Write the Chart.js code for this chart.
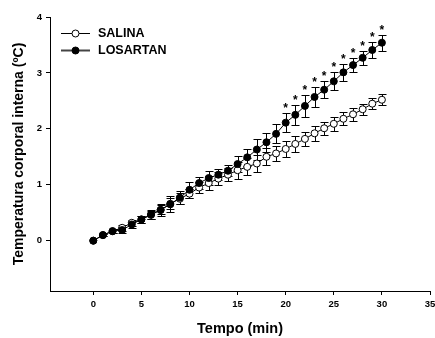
<!DOCTYPE html>
<html>
<head>
<meta charset="utf-8">
<script src="https://cdn.jsdelivr.net/npm/chart.js@4.4.1/dist/chart.umd.min.js"></script>
<style>
html,body{margin:0;padding:0;background:#fff;}
#wrap{width:435px;height:338px;position:relative;}
</style>
</head>
<body>
<div id="wrap"><canvas id="c" width="435" height="338"></canvas></div>
<script>
const times = [0,1,2,3,4,5,6,7,8,9,10,11,12,13,14,15,16,17,18,19,20,21,22,23,24,25,26,27,28,29,30];
const salina = [0,0.10,0.17,0.23,0.32,0.38,0.46,0.55,0.66,0.75,0.84,0.95,1.03,1.11,1.18,1.26,1.32,1.38,1.50,1.56,1.64,1.73,1.82,1.92,2.01,2.09,2.18,2.26,2.35,2.45,2.52];
const salinaErr = [0,0.02,0.03,0.05,0.05,0.06,0.07,0.08,0.10,0.10,0.08,0.10,0.13,0.12,0.12,0.15,0.15,0.15,0.15,0.13,0.15,0.15,0.13,0.13,0.12,0.12,0.12,0.12,0.10,0.10,0.10];
const losartan = [0,0.10,0.17,0.19,0.29,0.38,0.47,0.55,0.65,0.77,0.91,1.03,1.12,1.18,1.25,1.37,1.49,1.63,1.76,1.91,2.11,2.25,2.41,2.57,2.70,2.85,3.01,3.14,3.27,3.41,3.54];
const losartanErr = [0,0.02,0.03,0.06,0.06,0.07,0.08,0.11,0.14,0.12,0.14,0.10,0.12,0.10,0.10,0.15,0.15,0.18,0.17,0.17,0.17,0.18,0.20,0.18,0.15,0.16,0.15,0.13,0.13,0.14,0.14];
const sigTimes = [20,21,22,23,24,25,26,27,28,29,30];
const xTicks = [0,5,10,15,20,25,30,35];
const yTicks = [0,1,2,3,4];
const seriesNames = ['SALINA','LOSARTAN'];
const xTitle = 'Tempo (min)';
const yTitle = 'Temperatura corporal interna (ºC)';

const FONT = 'Liberation Sans, Arial, sans-serif';

const errs = [salinaErr, losartanErr];

const errorBarPlugin = {
  id: 'errorBars',
  beforeDatasetsDraw(chart) {
    const ctx = chart.ctx;
    const xs = chart.scales.x, ys = chart.scales.y;
    ctx.save();
    ctx.strokeStyle = '#000';
    ctx.lineWidth = 1;
    chart.data.datasets.forEach((ds, di) => {
      const e = errs[di];
      ds.data.forEach((p, i) => {
        if (!e[i]) return;
        const x = Math.round(xs.getPixelForValue(p.x)) + 0.5;
        const yT = Math.round(ys.getPixelForValue(p.y + e[i])) + 0.5;
        const yB = Math.round(ys.getPixelForValue(p.y - e[i])) + 0.5;
        ctx.beginPath();
        ctx.moveTo(x, yT); ctx.lineTo(x, yB);
        ctx.moveTo(x - 4, yT); ctx.lineTo(x + 4, yT);
        ctx.moveTo(x - 4, yB); ctx.lineTo(x + 4, yB);
        ctx.stroke();
      });
    });
    ctx.restore();
  },
  afterDatasetsDraw(chart) {
    const ctx = chart.ctx;
    const xs = chart.scales.x, ys = chart.scales.y;
    ctx.save();
    ctx.fillStyle = '#000';
    ctx.font = 'bold 12px ' + FONT;
    ctx.textAlign = 'center';
    ctx.textBaseline = 'alphabetic';
    sigTimes.forEach(t => {
      const i = times.indexOf(t);
      const x = xs.getPixelForValue(t);
      const y = ys.getPixelForValue(losartan[i] + losartanErr[i]);
      ctx.fillText('*', x, y - 1);
    });
    // legend
    const items = [
      {label: seriesNames[0], fill: '#fff', line: '#000', lw: 1, y: 33},
      {label: seriesNames[1], fill: '#000', line: '#444', lw: 2, y: 50}
    ];
    ctx.font = 'bold 12.5px ' + FONT;
    ctx.textAlign = 'left';
    ctx.textBaseline = 'middle';
    items.forEach(it => {
      ctx.strokeStyle = it.line;
      ctx.lineWidth = it.lw;
      ctx.beginPath();
      ctx.moveTo(61, it.y + 0.5); ctx.lineTo(90, it.y + 0.5);
      ctx.stroke();
      ctx.beginPath();
      ctx.arc(75.5, it.y + 0.5, 3.5, 0, Math.PI * 2);
      ctx.fillStyle = it.fill;
      ctx.fill();
      ctx.strokeStyle = '#000';
      ctx.lineWidth = 1;
      ctx.stroke();
      ctx.fillStyle = '#000';
      ctx.fillText(it.label, 98, it.y + 1);
    });
    ctx.restore();
  }
};

new Chart(document.getElementById('c'), {
  type: 'scatter',
  data: {
    datasets: [
      {
        label: seriesNames[0],
        data: times.map((t, i) => ({x: t, y: salina[i]})),
        showLine: true,
        borderColor: '#000',
        borderWidth: 1,
        backgroundColor: '#fff',
        pointBackgroundColor: '#fff',
        pointBorderColor: '#000',
        pointBorderWidth: 1,
        pointRadius: 3.5,
        order: 2
      },
      {
        label: seriesNames[1],
        data: times.map((t, i) => ({x: t, y: losartan[i]})),
        showLine: true,
        borderColor: '#000',
        borderWidth: 1,
        backgroundColor: '#000',
        pointBackgroundColor: '#000',
        pointBorderColor: '#000',
        pointBorderWidth: 1,
        pointRadius: 3.5,
        order: 1
      }
    ]
  },
  options: {
    responsive: false,
    animation: false,
    devicePixelRatio: 1,
    clip: false,
    layout: {padding: {top: 17, right: 4, left: 0, bottom: 0}},
    plugins: {legend: {display: false}, tooltip: {enabled: false}},
    elements: {line: {tension: 0}},
    scales: {
      x: {
        type: 'linear',
        min: -4.5,
        max: 35,
        afterBuildTicks: s => { s.ticks = xTicks.map(v => ({value: v})); },
        afterFit: s => { s.height = 47; s.paddingRight = 0; s.paddingLeft = 0; },
        grid: {display: true, drawOnChartArea: false, drawTicks: true, tickLength: 4, color: '#000', lineWidth: 1},
        border: {display: true, color: '#000', width: 1},
        ticks: {color: '#000', font: {family: FONT, size: 9.5, weight: 'bold'}, padding: 4, maxRotation: 0},
        title: {display: true, text: xTitle, color: '#000', font: {family: FONT, size: 14.5, weight: 'bold'}, padding: {top: 0, bottom: 0}}
      },
      y: {
        type: 'linear',
        min: -0.9,
        max: 4,
        afterBuildTicks: s => { s.ticks = yTicks.map(v => ({value: v})); },
        afterFit: s => { s.width = 50; s.paddingTop = 0; s.paddingBottom = 0; },
        grid: {display: true, drawOnChartArea: false, drawTicks: true, tickLength: 4, color: '#000', lineWidth: 1},
        border: {display: true, color: '#000', width: 1},
        ticks: {color: '#000', font: {family: FONT, size: 9.5, weight: 'bold'}, padding: 4},
        title: {display: true, text: yTitle, color: '#000', font: {family: FONT, size: 14, weight: 'bold'}, padding: {top: 11, bottom: 0}}
      }
    }
  },
  plugins: [errorBarPlugin]
});
</script>
</body>
</html>
